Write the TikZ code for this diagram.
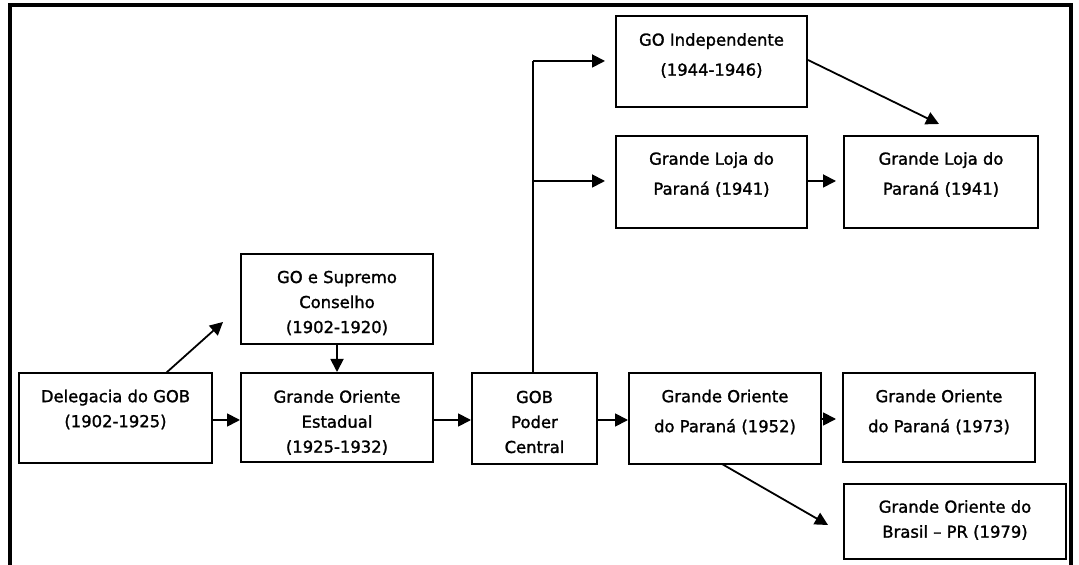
\documentclass[tikz,border=0pt]{standalone}
\usepackage{fontspec}
\newfontfamily\boxfont{DejaVu Sans}[FakeBold=1.4]
\usetikzlibrary{arrows.meta}
\tikzset{
  box/.style={draw=black, line width=1pt, rectangle, inner sep=0pt, fill=white},
  txt/.style={align=center, inner sep=0pt, text=black, font=\boxfont\fontsize{8.2}{12.5}\selectfont},
  txtw/.style={align=center, inner sep=0pt, text=black, font=\boxfont\fontsize{8.2}{15}\selectfont},
  conn/.style={line width=0.9pt, -{Triangle[length=6.5pt,width=6.5pt]}},
  plain/.style={line width=0.9pt},
  frame/.style={line width=1.7pt}
}
\begin{document}
\begin{tikzpicture}[x=0.5pt,y=-0.5pt]
\useasboundingbox (0,0) rectangle (1079,565);
\fill[white] (0,0) rectangle (1079,565);
% outer frame (open at bottom)
\draw[frame] (10,566) -- (10,5) -- (1071,5) -- (1071,566);

% boxes
\node[box, minimum width=96.5pt, minimum height=45pt] (del) at (115.5,418) {};
\node[box, minimum width=96pt, minimum height=45pt] (sup) at (337,299) {};
\node[box, minimum width=96pt, minimum height=44.5pt] (est) at (337,417.5) {};
\node[box, minimum width=62.5pt, minimum height=45.5pt] (gob) at (534.5,418.5) {};
\node[box, minimum width=95.5pt, minimum height=45.5pt] (ind) at (711.5,61.5) {};
\node[box, minimum width=95.5pt, minimum height=46pt] (gl1) at (711.5,182) {};
\node[box, minimum width=97pt, minimum height=46pt] (gl2) at (941,182) {};
\node[box, minimum width=96pt, minimum height=45.5pt] (p52) at (725,418.5) {};
\node[box, minimum width=96pt, minimum height=44.5pt] (p73) at (939,417.5) {};
\node[box, minimum width=111pt, minimum height=37.5pt] (br) at (955,521.5) {};

% texts
\node[txt] (del-t) at (115.5,409.5) {Delegacia do GOB\\(1902-1925)};
\node[txt] (sup-t) at (337,303) {GO e Supremo\\Conselho\\(1902-1920)};
\node[txt] (est-t) at (337,422.5) {Grande Oriente\\Estadual\\(1925-1932)};
\node[txt] (gob-t) at (534.5,422) {GOB\\Poder\\Central};
\node[txtw] (ind-t) at (711.5,55.5) {GO Independente\\(1944-1946)};
\node[txtw] (gl1-t) at (711.5,174.5) {Grande Loja do\\Paraná (1941)};
\node[txtw] (gl2-t) at (941,174.5) {Grande Loja do\\Paraná (1941)};
\node[txtw] (p52-t) at (725,412) {Grande Oriente\\do Paraná (1952)};
\node[txtw] (p73-t) at (939,412) {Grande Oriente\\do Paraná (1973)};
\node[txt] (br-t) at (955,520) {Grande Oriente do\\Brasil – PR (1979)};

% free-end coordinates
\coordinate (d0) at (166,373);
\coordinate (d1) at (223,322);
\coordinate (v0) at (533,373);
\coordinate (vtop) at (533,61);
\coordinate (vmid) at (533,181);
\coordinate (a1) at (605,61);
\coordinate (a2) at (605,181);
\coordinate (i0) at (808,60);
\coordinate (i1) at (939,124);
\coordinate (p0) at (722,464);
\coordinate (p1) at (828,525);

% connectors
\draw[conn] (del.east |- 0,420) -- (est.west |- 0,420);
\draw[conn] (d0) -- (d1);
\draw[conn] (sup.south) -- (est.north);
\draw[conn] (est.east |- 0,420) -- (gob.west |- 0,420);
\draw[conn] (gob.east |- 0,420) -- (p52.west |- 0,420);
\draw[plain] (v0) -- (vtop);
\draw[conn] (vtop) -- (a1);
\draw[conn] (vmid) -- (a2);
\draw[conn] (gl1.east |- 0,181) -- ([xshift=-3.5pt]gl2.west |- 0,181);
\draw[conn] (i0) -- (i1);
\draw[conn] (p52.east |- 0,419) -- ([xshift=-3pt]p73.west |- 0,419);
\draw[conn] (p0) -- (p1);
\end{tikzpicture}
\end{document}
